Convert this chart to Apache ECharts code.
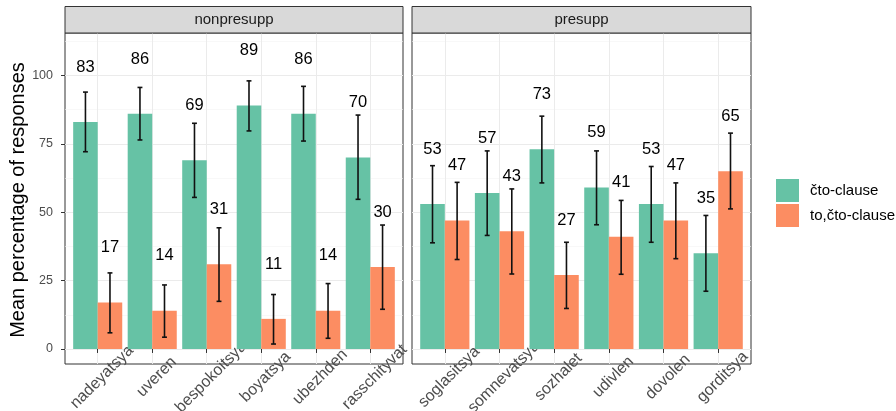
<!DOCTYPE html>
<html><head><meta charset="utf-8">
<script src="https://cdn.jsdelivr.net/npm/echarts@6/dist/echarts.min.js"></script>
<style>html,body{margin:0;padding:0;background:#fff}#c{width:896px;height:411px}</style>
</head><body><div id="c"></div>
<script>
const panelNames = ['nonpresupp', 'presupp'];
const catsNon = ['nadeyatsya','uveren','bespokoitsya','boyatsya','ubezhden','rasschityvat'];
const catsPre = ['soglasitsya','somnevatsya','sozhalet','udivlen','dovolen','gorditsya'];
const seriesNames = ['čto-clause', 'to,čto-clause'];
const ctoNon = [83, 86, 69, 89, 86, 70];
const totoNon = [17, 14, 31, 11, 14, 30];
const ctoPre = [53, 57, 73, 59, 53, 35];
const totoPre = [47, 43, 27, 41, 47, 65];
const ctoNonLo = [72.1, 76.4, 55.4, 79.7, 76.0, 54.7];
const ctoNonHi = [93.9, 95.6, 82.5, 98.0, 96.0, 85.5];
const totoNonLo = [5.9, 4.3, 17.4, 1.8, 3.9, 14.5];
const totoNonHi = [27.8, 23.4, 44.3, 19.9, 23.9, 45.3];
const ctoPreLo = [38.8, 41.5, 60.7, 45.4, 39.0, 21.1];
const ctoPreHi = [67.0, 72.4, 85.1, 72.4, 66.7, 48.8];
const totoPreLo = [32.7, 27.4, 14.8, 27.3, 33.0, 51.2];
const totoPreHi = [60.9, 58.5, 39.0, 54.3, 60.7, 78.9];
const yTicks = [0, 25, 50, 75, 100];
const yMinor = [12.5, 37.5, 62.5, 87.5, 112.5];

const COLORS = ['#66C2A5', '#FC8D62'];
const FONT = '"Liberation Sans", Arial, Helvetica, sans-serif';
const BW = 0.45;          // bar width (ggplot dodge 0.9 / 2)
const LABEL_OFFSET = 20;  // label y = value + 20

const chart = echarts.init(document.getElementById('c'), null, {renderer: 'canvas'});

const panels = [
  {cats: catsNon, vals: [ctoNon, totoNon], lo: [ctoNonLo, totoNonLo], hi: [ctoNonHi, totoNonHi], left: 65, right: 896 - 403},
  {cats: catsPre, vals: [ctoPre, totoPre], lo: [ctoPreLo, totoPreLo], hi: [ctoPreHi, totoPreHi], left: 412, right: 896 - 751}
];

const grids = [], xAxes = [], yAxes = [], series = [];
const catIdx = [1, 2, 3, 4, 5, 6];

panels.forEach((p, pi) => {
  grids.push({left: p.left, right: p.right, top: 33, bottom: 411 - 364, show: true,
    borderColor: '#333333', borderWidth: 1, backgroundColor: '#ffffff', containLabel: false,
    outerBoundsMode: 'none'});
  xAxes.push({type: 'value', gridIndex: pi, min: 0.4, max: 6.6,
    axisLine: {show: false},
    axisTick: {show: true, customValues: catIdx, length: 4, lineStyle: {color: '#333333', width: 1}},
    splitLine: {show: true, lineStyle: {color: '#ebebeb', width: 1}},
    axisLabel: {show: true, customValues: catIdx.map(v => v + 0.08), rotate: 45, align: 'center', verticalAlign: 'middle',
      margin: 13, fontSize: 16, color: '#4d4d4d', fontFamily: FONT, hideOverlap: false,
      formatter: v => p.cats[Math.round(v) - 1] || ''}
  });
  yAxes.push({type: 'value', gridIndex: pi, min: -5.5, max: 115.5,
    axisLine: {show: false},
    axisTick: {show: pi === 0, customValues: yTicks, length: 4, lineStyle: {color: '#333333'}},
    splitLine: {show: true, lineStyle: {color: '#ebebeb', width: 1}},
    axisLabel: {show: pi === 0, customValues: yTicks, margin: 12, fontSize: 12.5, color: '#4d4d4d', fontFamily: FONT}
  });
  yAxes.push({type: 'value', gridIndex: pi, min: -5.5, max: 115.5, position: 'right',
    axisLine: {show: false},
    axisTick: {show: false, customValues: yMinor},
    splitLine: {show: true, lineStyle: {color: '#f3f3f3', width: 0.6}},
    axisLabel: {show: false, customValues: yMinor}
  });
  const yi = pi * 2;
  [0, 1].forEach(si => {
    const off = si === 0 ? -BW : 0;
    series.push({
      type: 'custom', name: seriesNames[si], xAxisIndex: pi, yAxisIndex: yi,
      itemStyle: {color: COLORS[si]}, z: 3,
      data: p.vals[si].map((v, i) => [i + 1, v]),
      renderItem: (params, api) => {
        const x = api.value(0), v = api.value(1);
        const a = api.coord([x + off, v]);
        const b = api.coord([x + off + BW, 0]);
        return {type: 'rect', shape: {x: a[0], y: a[1], width: b[0] - a[0], height: b[1] - a[1]},
          style: {fill: COLORS[si]}};
      }
    });
    series.push({
      type: 'custom', name: seriesNames[si] + ' err', xAxisIndex: pi, yAxisIndex: yi, z: 5,
      data: p.lo[si].map((l, i) => [i + 1, l, p.hi[si][i]]),
      renderItem: (params, api) => {
        const cx = api.value(0) + off + BW / 2;
        const lo = api.coord([cx, api.value(1)]);
        const hi = api.coord([cx, api.value(2)]);
        const wl = api.coord([cx - 0.045, 0])[0], wr = api.coord([cx + 0.045, 0])[0];
        const st = {stroke: '#111111', lineWidth: 1.6};
        return {type: 'group', children: [
          {type: 'line', shape: {x1: lo[0], y1: lo[1], x2: hi[0], y2: hi[1]}, style: st},
          {type: 'line', shape: {x1: wl, y1: lo[1], x2: wr, y2: lo[1]}, style: st},
          {type: 'line', shape: {x1: wl, y1: hi[1], x2: wr, y2: hi[1]}, style: st}
        ]};
      }
    });
    series.push({
      type: 'custom', name: seriesNames[si] + ' lbl', xAxisIndex: pi, yAxisIndex: yi, z: 6,
      data: p.vals[si].map((v, i) => [i + 1, v]),
      renderItem: (params, api) => {
        const v = api.value(1);
        const c = api.coord([api.value(0) + off + BW / 2, v + LABEL_OFFSET]);
        return {type: 'text', x: c[0], y: c[1], style: {text: String(v), fontSize: 16.5, fontFamily: FONT,
          fill: '#000000', align: 'center', verticalAlign: 'middle'}};
      }
    });
  });
});

const graphics = [];
panels.forEach((p, pi) => {
  const l = p.left, w = 896 - p.right - p.left;
  graphics.push({type: 'rect', shape: {x: l, y: 6.5, width: w, height: 26.5},
    style: {fill: '#d9d9d9', stroke: '#333333', lineWidth: 1}, z: 10});
  graphics.push({type: 'text', x: l + w / 2, y: 20, style: {text: panelNames[pi], fontSize: 15, fontFamily: FONT,
    fill: '#1a1a1a', align: 'center', verticalAlign: 'middle'}, z: 11});
});
graphics.push({type: 'text', x: 18.5, y: 200, rotation: Math.PI / 2,
  style: {text: 'Mean percentage of responses', fontSize: 20, fontFamily: FONT, fill: '#000000',
    align: 'center', verticalAlign: 'middle'}, z: 11});

chart.setOption({
  animation: false,
  backgroundColor: '#ffffff',
  grid: grids, xAxis: xAxes, yAxis: yAxes, series: series,
  legend: {data: seriesNames.map(n => ({name: n, icon: 'rect', itemStyle: {color: COLORS[seriesNames.indexOf(n)]}})),
    orient: 'vertical', left: 776, top: 179, itemWidth: 23, itemHeight: 23, itemGap: 2, padding: 0,
    textStyle: {fontSize: 15, fontFamily: FONT, color: '#000000', padding: [0, 0, 0, 6]}},
  graphic: graphics
});
</script></body></html>
